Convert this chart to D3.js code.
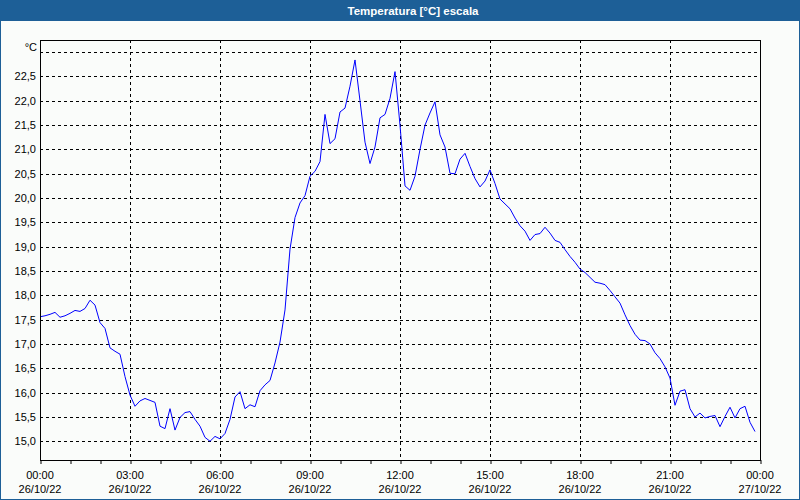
<!DOCTYPE html>
<html>
<head>
<meta charset="utf-8">
<script src="https://cdn.jsdelivr.net/npm/d3@7"></script>
<style>
  html, body { margin: 0; padding: 0; background: #fafcfa; }
  svg { display: block; }
</style>
</head>
<body>
<svg id="chart" width="800" height="500"></svg>
<script>
// ---- data ----
const chartTitle = "Temperatura [°C] escala";
const unitLabel = "°C";
const startTime = "2022-10-26T00:00:00";
const endTime = "2022-10-27T00:00:00";
const stepMinutes = 10;
const temperatures = [
  17.56, 17.58, 17.61, 17.65, 17.55, 17.58, 17.63, 17.69, 17.67, 17.73,
  17.90, 17.80, 17.44, 17.32, 16.92, 16.85, 16.79, 16.33, 15.95, 15.72,
  15.83, 15.88, 15.84, 15.80, 15.31, 15.26, 15.67, 15.23, 15.49, 15.59,
  15.61, 15.45, 15.31, 15.08, 15.00, 15.10, 15.05, 15.16, 15.45, 15.91,
  16.02, 15.67, 15.75, 15.71, 16.04, 16.16, 16.25, 16.61, 17.04, 17.70,
  18.95, 19.60, 19.90, 20.05, 20.45, 20.55, 20.75, 21.72, 21.12, 21.22,
  21.77, 21.85, 22.30, 22.84, 22.00, 21.15, 20.71, 21.05, 21.65, 21.72,
  22.05, 22.60, 21.50, 20.25, 20.16, 20.45, 21.00, 21.50, 21.75, 21.98,
  21.30, 21.05, 20.51, 20.50, 20.80, 20.92, 20.65, 20.40, 20.23, 20.35,
  20.58, 20.30, 19.98, 19.88, 19.78, 19.59, 19.43, 19.32, 19.13, 19.25,
  19.27, 19.40, 19.28, 19.13, 19.09, 18.94, 18.80, 18.68, 18.54, 18.47,
  18.37, 18.27, 18.25, 18.22, 18.10, 17.97, 17.84, 17.60, 17.38, 17.20,
  17.08, 17.07, 17.00, 16.82, 16.70, 16.53, 16.30, 15.74, 16.03, 16.06,
  15.67, 15.50, 15.58, 15.48, 15.51, 15.53, 15.30, 15.51, 15.70, 15.48,
  15.67, 15.72, 15.39, 15.20
];
const yTicks = [15.0, 15.5, 16.0, 16.5, 17.0, 17.5, 18.0, 18.5, 19.0, 19.5, 20.0, 20.5, 21.0, 21.5, 22.0, 22.5, 23.0];
const yLabelTicks = [15.0, 15.5, 16.0, 16.5, 17.0, 17.5, 18.0, 18.5, 19.0, 19.5, 20.0, 20.5, 21.0, 21.5, 22.0, 22.5];
const yDomain = [14.615, 23.25];

// ---- layout ----
const W = 800, H = 500;
const plot = { left: 40, right: 760, top: 40, bottom: 460 };
const svg = d3.select("#chart");

const t0 = new Date(startTime), t1 = new Date(endTime);
const points = temperatures.map((v, i) => ({ t: new Date(t0.getTime() + i * stepMinutes * 60000), v }));

const x = d3.scaleTime().domain([t0, t1]).range([plot.left, plot.right]);
const y = d3.scaleLinear().domain(yDomain).range([plot.bottom, plot.top]);

// background
svg.append("rect").attr("width", W).attr("height", H).attr("fill", "#fafcfa");

// title bar
svg.append("rect").attr("x", 0).attr("y", 0).attr("width", W).attr("height", 21).attr("fill", "#1d5f97");
svg.append("text").attr("x", 413).attr("y", 15)
  .attr("text-anchor", "middle")
  .attr("font-family", "'Liberation Sans', Arial, sans-serif")
  .attr("font-size", 11.5).attr("font-weight", "bold")
  .attr("fill", "#ffffff").text(chartTitle);

// window border
svg.append("rect").attr("x", 0.5).attr("y", 0.5).attr("width", W - 1).attr("height", H - 1)
  .attr("fill", "none").attr("stroke", "#1d5f97").attr("stroke-width", 1);

// plot background
svg.append("rect").attr("x", plot.left).attr("y", plot.top)
  .attr("width", plot.right - plot.left).attr("height", plot.bottom - plot.top)
  .attr("fill", "#fafcfa");

const font = "'Liberation Sans', Arial, sans-serif";

// horizontal grid
svg.append("g").selectAll("line").data(yTicks).join("line")
  .attr("x1", plot.left).attr("x2", plot.right)
  .attr("y1", d => Math.round(y(d)) + 0.5).attr("y2", d => Math.round(y(d)) + 0.5)
  .attr("stroke", "#000").attr("stroke-width", 1).attr("stroke-dasharray", "3,3");

// vertical grid every 3 hours
const majorTimes = d3.timeHour.every(3).range(t0, new Date(t1.getTime() + 1));
svg.append("g").selectAll("line").data(majorTimes.filter(d => d > t0 && d < t1)).join("line")
  .attr("x1", d => Math.round(x(d)) + 0.5).attr("x2", d => Math.round(x(d)) + 0.5)
  .attr("y1", plot.top).attr("y2", plot.bottom)
  .attr("stroke", "#000").attr("stroke-width", 1).attr("stroke-dasharray", "3,3");

// hourly ticks below the axis
const xAxis = d3.axisBottom(x).ticks(d3.timeHour.every(1)).tickSize(4).tickFormat("");
const gx = svg.append("g").attr("transform", `translate(0.5,${plot.bottom})`).call(xAxis);
gx.select(".domain").remove();
gx.selectAll(".tick line").attr("stroke", "#000");

// x labels
const fmtTime = d3.timeFormat("%H:%M");
const fmtDate = d3.timeFormat("%d/%m/%y");
const xl = svg.append("g").selectAll("g").data(majorTimes).join("g")
  .attr("transform", d => `translate(${x(d)},0)`);
xl.append("text").attr("y", 479).attr("text-anchor", "middle")
  .attr("font-family", font).attr("font-size", 11).attr("fill", "#000").text(fmtTime);
xl.append("text").attr("y", 493).attr("text-anchor", "middle")
  .attr("font-family", font).attr("font-size", 11).attr("fill", "#000").text(fmtDate);

// y labels
const fmtY = v => d3.format(".1f")(v).replace(".", ",");
svg.append("g").selectAll("text").data(yLabelTicks).join("text")
  .attr("x", 36).attr("y", d => y(d) + 4)
  .attr("text-anchor", "end")
  .attr("font-family", font).attr("font-size", 11).attr("fill", "#000")
  .text(fmtY);
svg.append("text").attr("x", 37).attr("y", 51).attr("text-anchor", "end")
  .attr("font-family", font).attr("font-size", 11).attr("fill", "#000").text(unitLabel);

// data line
const line = d3.line().x(d => x(d.t)).y(d => y(d.v));
svg.append("path").datum(points)
  .attr("d", line).attr("fill", "none")
  .attr("stroke", "#0000ff").attr("stroke-width", 1);

// frame
svg.append("rect").attr("x", plot.left + 0.5).attr("y", plot.top + 0.5)
  .attr("width", plot.right - plot.left).attr("height", plot.bottom - plot.top)
  .attr("fill", "none").attr("stroke", "#000").attr("stroke-width", 1);
</script>
</body>
</html>
